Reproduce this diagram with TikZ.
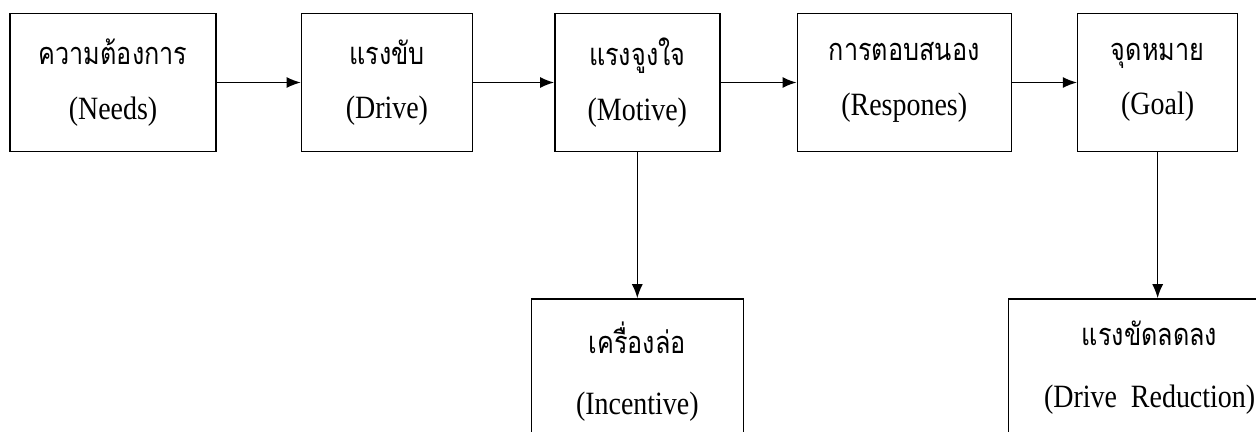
\documentclass[tikz,border=0pt]{standalone}
\usepackage{fontspec}
\setmainfont{Liberation Serif}[FakeStretch=0.86]
\newfontfamily\thaifont[Script=Thai,FakeStretch=0.82]{Loma}
\usepackage{tikz}
\usetikzlibrary{arrows.meta, positioning}
\tikzstyle{stage} = [rectangle, minimum height=2.76cm, align=center, draw=black, line width=0.8pt, font=\fontsize{18.5}{31}\selectfont]
\tikzstyle{result} = [rectangle, text depth=1.3cm, inner ysep=0.45cm, align=center, draw=black, line width=0.8pt, font=\fontsize{18.5}{35}\selectfont]
\tikzstyle{arrow} = [line width=0.8pt,-{Latex[length=2.8mm,width=2.2mm]}]

\begin{document}
\begin{tikzpicture}
        \useasboundingbox (0,0) rectangle (25.12,8.62);
        \clip (0,0) rectangle (25.12,8.62);
        \node (needs) [stage, minimum width=4.12cm] at (2.26,6.97) {{\thaifont\fontsize{17.5}{31}\selectfont ความต้องการ}\\(Needs)};
        \node (drive) [stage, minimum width=3.42cm, right=1.68cm of needs] {{\thaifont\fontsize{17.5}{31}\selectfont แรงขับ}\\(Drive)};
        \node (motive) [stage, minimum width=3.30cm, right=1.62cm of drive] {{\thaifont\fontsize{17.5}{31}\selectfont แรงจูงใจ}\\(Motive)};
        \node (response) [stage, minimum width=4.28cm, right=1.52cm of motive] {{\thaifont\fontsize{17.5}{31}\selectfont การตอบสนอง}\\(Respones)};
        \node (goal) [stage, minimum width=3.20cm, right=1.30cm of response] {{\thaifont\fontsize{17.5}{31}\selectfont จุดหมาย}\\(Goal)};

        \node (incentive) [result, minimum width=4.24cm, below=2.92cm of motive] {{\thaifont\fontsize{17.5}{35}\selectfont เครื่องล่อ}\\(Incentive)};
        \node (reduction) [result, minimum width=5.64cm, below=2.92cm of goal, xshift=-0.16cm] {{\thaifont\fontsize{17.5}{35}\selectfont แรงขัดลดลง}\\(Drive\ \ Reduction)};

        \draw [arrow] (needs) -- (drive);
        \draw [arrow] (drive) -- (motive);
        \draw [arrow] (motive) -- (response);
        \draw [arrow] (response) -- (goal);
        % down to the lower boxes
        \draw [arrow] (motive.south) -- (motive.south |- incentive.north);
        \draw [arrow] (goal.south) -- (goal.south |- reduction.north);
    \end{tikzpicture}
\end{document}
